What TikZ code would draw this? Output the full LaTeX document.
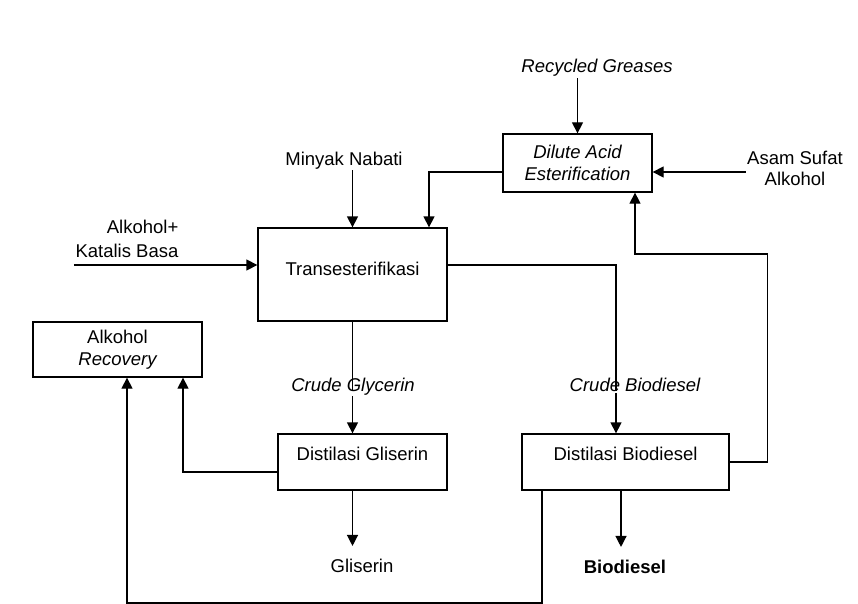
\documentclass[tikz,border=0pt]{standalone}
\usepackage{fontspec}
\setmainfont{Liberation Sans}
\usetikzlibrary{arrows.meta}

\begin{document}
\begin{tikzpicture}[x=1pt, y=-1pt, line width=1.3pt,
    every node/.style={font=\fontsize{18.5}{22}\selectfont, inner sep=1pt},
    box/.style={draw, inner sep=0pt},
    arr/.style={-{Triangle[length=11pt,width=11pt]}}]
  \useasboundingbox (0,0) rectangle (858,604);

  \node[box, anchor=base, minimum width=189pt, text height=47pt, text depth=46pt] (trans) at (352.5,275) {Transesterifikasi};
  \node[box, anchor=base, minimum width=169pt, text height=26pt, text depth=30pt] (distG) at (362.5,460) {Distilasi Gliserin};
  \node[box, anchor=base, minimum width=207pt, text height=26pt, text depth=30pt] (distB) at (625.5,460) {Distilasi Biodiesel};
  \node[box, align=center, minimum width=149pt, minimum height=58pt] (dilute) at (577.5,163) {\itshape Dilute Acid\\\itshape Esterification};
  \node[box, align=center, minimum width=169pt, minimum height=55pt] (rec) at (117.5,349.5) {Alkohol\\\itshape Recovery};

  \node[anchor=base] (rg) at (597,73) {\itshape Recycled Greases};
  \node[anchor=base] (mn) at (344,165) {Minyak Nabati};
  \node[align=center, font=\fontsize{18.5}{21}\selectfont] (asam) at (795,168) {Asam Sufat\\Alkohol};
  \node[align=right, anchor=east, font=\fontsize{18.5}{24}\selectfont] (kb) at (180,239) {Alkohol+\\Katalis Basa};
  \node[anchor=base] (cg) at (353,391) {\itshape Crude Glycerin};
  \node[anchor=base] (cb) at (635,391) {\itshape Crude Biodiesel};
  \node[anchor=base] (gl) at (362,572) {Gliserin};
  \node[anchor=base] (bd) at (625,573) {\bfseries Biodiesel};

  \coordinate (bot) at (300,603);
  \coordinate (loop) at (700,254);

  \draw[arr] (dilute.north |- rg.south) -- (dilute.north);
  \draw[arr] ([yshift=-9pt]dilute.east -| asam.west) -- ([yshift=-9pt]dilute.east);
  \draw[arr] (trans.north |- mn.south) -- (trans.north);
  \draw[arr] ([yshift=-9pt]dilute.west) -| ([xshift=76.5pt]trans.north);
  \draw[arr] ([yshift=9.5pt]trans.west -| kb.west) -- ([yshift=9.5pt]trans.west);

  \draw (trans.south) -- (trans.south |- cg.base);
  \draw[arr] (trans.south |- cg.south) -- (trans.south |- distG.north);
  \draw ([yshift=9.5pt]trans.east) -| ([xshift=-9.5pt]distB.north |- cb.base);
  \draw[arr] ([xshift=-9.5pt]distB.north |- cb.south) -- ([xshift=-9.5pt]distB.north);

  \draw[arr, shorten >=11pt] (trans.south |- distG.south) -- (trans.south |- gl.north);
  \draw[arr, shorten >=11pt] ([xshift=-4.5pt]distB.south) -- ([xshift=-4.5pt]distB.south |- bd.north);

  \draw[arr] ([yshift=-10pt]distG.west) -| ([xshift=65.5pt]rec.south);
  \draw[arr] ([xshift=-83.5pt]distB.south) |- (bot) -| ([xshift=9.5pt]rec.south);
  \draw[arr] (distB.east) -- ++(38,0) |- (loop) -| ([xshift=57.5pt]dilute.south);
\end{tikzpicture}
\end{document}
